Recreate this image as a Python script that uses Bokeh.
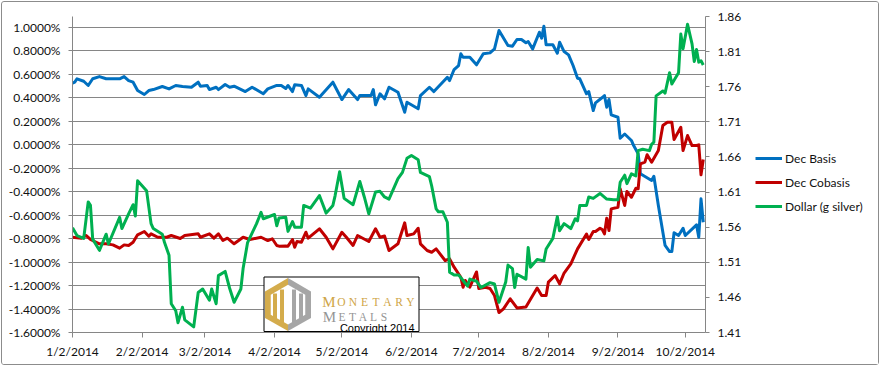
import pandas as pd
from bokeh.plotting import figure
from bokeh.layouts import row
from bokeh.models import (Range1d, LinearAxis, FixedTicker, CustomJSTickFormatter,
                          Legend, LegendItem)
from bokeh.core.properties import value
from bokeh.embed import file_html
from bokeh.resources import INLINE

# ---------------- data ----------------
basis_dates = [
    "2014-01-02", "2014-01-03", "2014-01-04", "2014-01-07", "2014-01-09", "2014-01-11", "2014-01-14",
    "2014-01-17", "2014-01-23", "2014-01-25", "2014-01-27", "2014-01-29", "2014-01-31",
    "2014-02-03", "2014-02-05", "2014-02-07", "2014-02-11", "2014-02-14", "2014-02-17", "2014-02-20",
    "2014-02-24", "2014-02-27", "2014-02-28",
    "2014-03-03", "2014-03-04", "2014-03-07", "2014-03-08", "2014-03-11", "2014-03-13", "2014-03-15",
    "2014-03-20", "2014-03-23", "2014-03-28", "2014-03-30",
    "2014-04-03", "2014-04-05", "2014-04-07", "2014-04-08", "2014-04-10", "2014-04-11", "2014-04-14",
    "2014-04-16", "2014-04-17", "2014-04-22", "2014-04-28",
    "2014-05-02", "2014-05-05", "2014-05-09", "2014-05-10", "2014-05-15", "2014-05-16", "2014-05-17",
    "2014-05-19", "2014-05-21", "2014-05-23", "2014-05-27", "2014-05-30", "2014-05-31",
    "2014-06-05", "2014-06-06", "2014-06-10", "2014-06-12", "2014-06-18", "2014-06-19", "2014-06-21",
    "2014-06-23", "2014-06-24", "2014-06-25", "2014-06-28",
    "2014-07-01", "2014-07-04", "2014-07-07", "2014-07-09", "2014-07-11", "2014-07-15", "2014-07-17",
    "2014-07-19", "2014-07-21", "2014-07-23", "2014-07-24", "2014-07-26", "2014-07-29", "2014-07-30",
    "2014-07-31",
    "2014-08-01", "2014-08-04", "2014-08-06", "2014-08-07", "2014-08-09", "2014-08-11", "2014-08-13",
    "2014-08-15", "2014-08-16", "2014-08-19", "2014-08-20", "2014-08-22", "2014-08-23", "2014-08-26",
    "2014-08-27", "2014-08-28", "2014-08-29", "2014-08-30",
    "2014-09-02", "2014-09-03", "2014-09-05", "2014-09-08", "2014-09-09", "2014-09-11", "2014-09-12",
    "2014-09-17", "2014-09-18", "2014-09-20", "2014-09-23", "2014-09-25", "2014-09-26", "2014-09-27",
    "2014-09-29",
    "2014-10-01", "2014-10-02", "2014-10-07", "2014-10-08", "2014-10-09", "2014-10-10",
]
basis_pct = [
    0.525, 0.534, 0.563, 0.542, 0.506, 0.563, 0.582, 0.563, 0.563, 0.582, 0.548, 0.534, 0.463,
    0.429, 0.463, 0.471, 0.497, 0.477, 0.506, 0.497, 0.491, 0.534, 0.500,
    0.506, 0.471, 0.491, 0.471, 0.514, 0.491, 0.500, 0.454, 0.491, 0.435, 0.477,
    0.506, 0.506, 0.480, 0.506, 0.454, 0.512, 0.506, 0.420, 0.477, 0.406, 0.534,
    0.386, 0.471, 0.386, 0.420, 0.420, 0.471, 0.341, 0.435, 0.392, 0.491, 0.448, 0.278, 0.363,
    0.307, 0.420, 0.491, 0.454, 0.576, 0.548, 0.642, 0.676, 0.776, 0.747, 0.747,
    0.682, 0.776, 0.784, 0.818, 0.974, 0.847, 0.841, 0.898, 0.898, 0.870, 0.881, 0.818, 0.960, 0.909,
    1.011,
    0.853, 0.853, 0.781, 0.875, 0.795, 0.767, 0.676, 0.568, 0.563, 0.435, 0.454, 0.292, 0.358, 0.403,
    0.420, 0.321, 0.386, 0.256,
    0.235, 0.056, 0.092, 0.037, -0.006, -0.077, -0.247, -0.304, -0.268, -0.517, -0.858, -0.910, -0.910,
    -0.750, -0.773,
    -0.711, -0.773, -0.682, -0.788, -0.460, -0.660,
]

cobasis_dates = [
    "2014-01-02", "2014-01-06", "2014-01-08", "2014-01-10", "2014-01-14", "2014-01-17", "2014-01-20",
    "2014-01-23", "2014-01-25", "2014-01-27", "2014-01-29", "2014-01-31",
    "2014-02-03", "2014-02-05", "2014-02-06", "2014-02-09", "2014-02-13", "2014-02-15", "2014-02-19",
    "2014-02-21", "2014-02-27", "2014-02-28",
    "2014-03-04", "2014-03-06", "2014-03-08", "2014-03-10", "2014-03-12", "2014-03-15", "2014-03-19",
    "2014-03-22", "2014-03-27", "2014-03-30",
    "2014-04-01", "2014-04-03", "2014-04-04", "2014-04-07", "2014-04-08", "2014-04-10", "2014-04-11",
    "2014-04-12", "2014-04-14", "2014-04-16", "2014-04-17", "2014-04-22", "2014-04-25", "2014-04-28",
    "2014-05-02", "2014-05-04", "2014-05-07", "2014-05-09", "2014-05-14", "2014-05-17", "2014-05-19",
    "2014-05-21", "2014-05-23", "2014-05-27", "2014-05-30", "2014-05-31",
    "2014-06-03", "2014-06-05", "2014-06-06", "2014-06-09", "2014-06-11", "2014-06-13", "2014-06-17",
    "2014-06-19", "2014-06-21", "2014-06-24", "2014-06-25", "2014-06-26", "2014-06-28",
    "2014-07-01", "2014-07-02", "2014-07-05", "2014-07-07", "2014-07-09", "2014-07-11", "2014-07-13",
    "2014-07-16", "2014-07-19", "2014-07-23", "2014-07-28", "2014-07-30",
    "2014-08-01", "2014-08-02", "2014-08-05", "2014-08-07", "2014-08-09", "2014-08-12", "2014-08-15",
    "2014-08-19", "2014-08-20", "2014-08-22", "2014-08-23", "2014-08-25", "2014-08-26", "2014-08-27",
    "2014-08-28", "2014-08-29", "2014-08-30",
    "2014-09-02", "2014-09-03", "2014-09-05", "2014-09-06", "2014-09-08", "2014-09-10", "2014-09-11",
    "2014-09-12", "2014-09-14", "2014-09-15", "2014-09-17", "2014-09-20", "2014-09-22", "2014-09-24",
    "2014-09-26", "2014-09-27", "2014-09-30",
    "2014-10-01", "2014-10-03", "2014-10-05", "2014-10-07", "2014-10-08", "2014-10-09", "2014-10-10",
]
cobasis_pct = [
    -0.788, -0.796, -0.773, -0.807, -0.844, -0.844, -0.853, -0.881, -0.853, -0.858, -0.830, -0.767,
    -0.739, -0.779, -0.759, -0.788, -0.788, -0.773, -0.799, -0.773, -0.759, -0.788,
    -0.759, -0.796, -0.759, -0.816, -0.796, -0.844, -0.788, -0.807, -0.788, -0.816,
    -0.801, -0.858, -0.864, -0.863, -0.864, -0.807, -0.873, -0.824, -0.830, -0.745, -0.796, -0.716,
    -0.788, -0.887,
    -0.745, -0.788, -0.858, -0.773, -0.824, -0.716, -0.788, -0.777, -0.901, -0.844, -0.665, -0.773,
    -0.759, -0.711, -0.844, -0.901, -0.916, -0.887, -0.986, -0.972, -1.043, -1.129, -1.214, -1.157,
    -1.214,
    -1.084, -1.225, -1.214, -1.225, -1.285, -1.430, -1.398, -1.313, -1.391, -1.383, -1.221, -1.285,
    -1.285, -1.171, -1.114, -1.185, -1.093, -1.014, -0.887, -0.760, -0.807, -0.739, -0.739, -0.711,
    -0.722, -0.759, -0.626, -0.731, -0.546,
    -0.532, -0.375, -0.517, -0.398, -0.447, -0.370, -0.375, -0.162, -0.148, -0.085, -0.148, -0.049,
    0.165, 0.193, 0.193, 0.045, 0.150,
    -0.049, 0.079, -0.006, -0.006, 0.000, -0.256, -0.125,
]

dollar_dates = [
    "2014-01-02", "2014-01-04", "2014-01-07", "2014-01-09", "2014-01-10", "2014-01-11", "2014-01-14",
    "2014-01-17", "2014-01-18", "2014-01-23", "2014-01-24", "2014-01-27", "2014-01-29", "2014-01-30",
    "2014-01-31",
    "2014-02-04", "2014-02-06", "2014-02-07", "2014-02-11", "2014-02-12", "2014-02-14", "2014-02-15",
    "2014-02-17", "2014-02-18", "2014-02-20", "2014-02-21", "2014-02-25", "2014-02-27",
    "2014-03-01", "2014-03-04", "2014-03-05", "2014-03-07", "2014-03-08", "2014-03-11", "2014-03-13",
    "2014-03-15", "2014-03-18", "2014-03-19", "2014-03-21", "2014-03-25", "2014-03-26", "2014-03-27",
    "2014-03-28",
    "2014-04-02", "2014-04-03", "2014-04-04", "2014-04-07", "2014-04-08", "2014-04-10", "2014-04-11",
    "2014-04-14", "2014-04-15", "2014-04-18", "2014-04-22", "2014-04-25", "2014-04-28", "2014-04-29",
    "2014-05-01", "2014-05-03", "2014-05-07", "2014-05-10", "2014-05-12", "2014-05-14", "2014-05-17",
    "2014-05-19", "2014-05-21", "2014-05-23", "2014-05-27", "2014-05-29", "2014-05-31",
    "2014-06-02", "2014-06-05", "2014-06-06", "2014-06-10", "2014-06-11", "2014-06-13", "2014-06-14",
    "2014-06-16", "2014-06-18", "2014-06-19", "2014-06-21", "2014-06-23", "2014-06-25", "2014-06-27",
    "2014-06-28",
    "2014-07-01", "2014-07-03", "2014-07-07", "2014-07-09", "2014-07-11", "2014-07-14", "2014-07-15",
    "2014-07-17", "2014-07-18", "2014-07-19", "2014-07-23", "2014-07-24", "2014-07-25", "2014-07-28",
    "2014-07-31",
    "2014-08-01", "2014-08-04", "2014-08-06", "2014-08-07", "2014-08-09", "2014-08-12", "2014-08-14",
    "2014-08-15", "2014-08-16", "2014-08-19", "2014-08-20", "2014-08-22", "2014-08-25", "2014-08-28",
    "2014-08-31",
    "2014-09-02", "2014-09-03", "2014-09-05", "2014-09-06", "2014-09-08", "2014-09-10", "2014-09-11",
    "2014-09-13", "2014-09-16", "2014-09-17", "2014-09-18", "2014-09-19", "2014-09-22", "2014-09-23",
    "2014-09-25", "2014-09-26", "2014-09-29", "2014-09-30",
    "2014-10-01", "2014-10-03", "2014-10-05", "2014-10-06", "2014-10-07", "2014-10-08", "2014-10-09",
    "2014-10-10",
]
dollar_g = [
    1.559, 1.548, 1.544, 1.596, 1.591, 1.543, 1.527, 1.550, 1.536, 1.574, 1.558, 1.579, 1.592, 1.576,
    1.626,
    1.612, 1.565, 1.558, 1.550, 1.538, 1.520, 1.451, 1.441, 1.424, 1.446, 1.428, 1.418, 1.467,
    1.472, 1.456, 1.472, 1.451, 1.491, 1.497, 1.473, 1.453, 1.472, 1.501, 1.538, 1.565, 1.573, 1.581,
    1.572,
    1.578, 1.562, 1.573, 1.574, 1.554, 1.568, 1.560, 1.560, 1.591, 1.587, 1.605, 1.580, 1.591, 1.605,
    1.639, 1.601, 1.592, 1.625, 1.603, 1.579, 1.610, 1.611, 1.603, 1.600, 1.629, 1.638, 1.658,
    1.662, 1.656, 1.638, 1.632, 1.619, 1.586, 1.582, 1.582, 1.567, 1.496, 1.492, 1.492, 1.484, 1.476,
    1.486,
    1.483, 1.474, 1.481, 1.479, 1.453, 1.482, 1.506, 1.501, 1.474, 1.493, 1.486, 1.531, 1.503, 1.514,
    1.512,
    1.529, 1.544, 1.575, 1.555, 1.565, 1.558, 1.572, 1.569, 1.591, 1.591, 1.603, 1.601, 1.608, 1.600,
    1.599,
    1.599, 1.624, 1.634, 1.622, 1.636, 1.633, 1.669, 1.671, 1.669, 1.678, 1.681, 1.747, 1.754, 1.751,
    1.780, 1.764, 1.780, 1.835,
    1.814, 1.849, 1.821, 1.796, 1.813, 1.795, 1.797, 1.791,
]

x_tick_dates = ["2014-01-02", "2014-02-02", "2014-03-02", "2014-04-02", "2014-05-02",
                "2014-06-02", "2014-07-02", "2014-08-02", "2014-09-02", "2014-10-02"]
left_ticks = [-1.6, -1.4, -1.2, -1.0, -0.8, -0.6, -0.4, -0.2, 0.0, 0.2, 0.4, 0.6, 0.8, 1.0]
right_ticks = [1.41, 1.46, 1.51, 1.56, 1.61, 1.66, 1.71, 1.76, 1.81, 1.86]
series_labels = ["Dec Basis", "Dec Cobasis", "Dollar (g silver)"]
series_colors = ["#0070C0", "#C00000", "#00B050"]


def to_ms(dates):
    return [pd.Timestamp(d).value // 10**6 for d in dates]


series = [(to_ms(basis_dates), basis_pct), (to_ms(cobasis_dates), cobasis_pct),
          (to_ms(dollar_dates), dollar_g)]

DAY = 86400000
X0 = to_ms(["2014-01-02"])[0]
X1 = X0 + 282 * DAY
YL0, YL1 = -1.6, 1.094

FONT = "Lato"
GRID = "#868686"

p = figure(frame_width=633, frame_height=316, output_backend="svg", toolbar_location=None,
           x_range=Range1d(X0, X1), y_range=Range1d(YL0, YL1),
           min_border_left=70, min_border_top=14, min_border_bottom=32, min_border_right=40)
p.outline_line_color = None
p.background_fill_color = "white"
p.border_fill_color = "white"
p.extra_y_ranges = {"dollar": Range1d(1.41, 1.86)}

# axes
xa = p.xaxis[0]
xa.ticker = FixedTicker(ticks=to_ms(x_tick_dates))
xa.formatter = CustomJSTickFormatter(code="""
const d = new Date(tick);
return (d.getUTCMonth() + 1) + "/" + d.getUTCDate() + "/" + d.getUTCFullYear();
""")
ya = p.yaxis[0]
ya.ticker = FixedTicker(ticks=left_ticks)
ya.formatter = CustomJSTickFormatter(code="return tick.toFixed(4) + '%';")
ra = LinearAxis(y_range_name="dollar", ticker=FixedTicker(ticks=right_ticks),
                formatter=CustomJSTickFormatter(code="return tick.toFixed(2);"))
p.add_layout(ra, "right")

for ax in (xa, ya, ra):
    ax.axis_line_color = GRID
    ax.major_tick_line_color = GRID
    ax.minor_tick_line_color = None
    ax.major_tick_in = 0
    ax.major_label_text_font = FONT
    ax.major_label_text_font_size = "12px"
    ax.major_label_text_color = "#111111"
xa.major_tick_out = 5
xa.major_label_standoff = 6
ya.major_tick_out = 4
ya.major_label_standoff = 8
ra.major_tick_out = 4
ra.major_label_standoff = 8

p.xgrid.grid_line_color = None
p.ygrid.ticker = FixedTicker(ticks=left_ticks)
p.ygrid.grid_line_color = GRID
p.ygrid.grid_line_width = 1

# series
for (xs, ys), col, rng in zip(series, series_colors, ["default", "default", "dollar"]):
    p.line(xs, ys, line_color=col, line_width=3, line_join="round", y_range_name=rng)

# ---------------- watermark (decoration placed in screen pixels of the frame) ----------------
FR_L, FR_T, FR_W, FR_H = 72, 16, 633, 316


def wx(px):
    return X0 + (px - FR_L) / FR_W * (X1 - X0)


def wy(py):
    return YL0 + (FR_T + FR_H - py) / FR_H * (YL1 - YL0)


p.quad(left=[wx(263.5)], right=[wx(418.5)], bottom=[wy(331)], top=[wy(276.5)],
       fill_color="white", line_color="black", line_width=1)

GOLD = "#D4AC4C"
GREY = "#A6A6A6"
cx, cy = 287.5, 304.0
outer = [(287.5, 277.5), (310.5, 291), (310.5, 317.5), (287.5, 330.5), (264.5, 317.5), (264.5, 291)]
gold_half = [outer[0], outer[3], outer[4], outer[5]]
grey_half = [outer[0], outer[1], outer[2], outer[3]]
inner = [(cx + (x - cx) * 0.75, cy + (y - cy) * 0.75) for x, y in outer]
bars_gold = [(272.5, 276.5, 293, 320), (279.5, 283.5, 289, 323)]
bars_grey = [(291.5, 295.5, 289, 323), (298.5, 302.5, 293, 320)]

p.patches([[wx(x) for x, _ in gold_half], [wx(x) for x, _ in grey_half]],
          [[wy(y) for _, y in gold_half], [wy(y) for _, y in grey_half]],
          fill_color=[GOLD, GREY], line_color=None)
p.patch([wx(x) for x, _ in inner], [wy(y) for _, y in inner], fill_color="white", line_color=None)
for bars, col in ((bars_gold, GOLD), (bars_grey, GREY)):
    p.quad(left=[wx(b[0]) for b in bars], right=[wx(b[1]) for b in bars],
           top=[wy(b[2]) for b in bars], bottom=[wy(b[3]) for b in bars],
           fill_color=col, line_color=None)


def spaced_word(word, first_x, pitch, base_y, color):
    xs = [wx(first_x)] + [wx(first_x + 12.5 + i * pitch) for i in range(len(word) - 1)]
    sizes = ["15px"] + ["11.5px"] * (len(word) - 1)
    for ch, xx, sz in zip(word, xs, sizes):
        p.text(x=[xx], y=[wy(base_y)], text=[ch], text_align="center", text_baseline="alphabetic",
               text_font=value("Liberation Serif"), text_font_size=sz, text_color=color)


spaced_word("MONETARY", 328.5, 11.5, 301.5, "#CFA546")
spaced_word("METALS", 329.0, 10.5, 316.5, "#959595")
p.text(x=[wx(414)], y=[wy(327)], text=["Copyright 2014"], text_align="right",
       text_baseline="alphabetic", text_font=value("Liberation Sans"), text_font_size="11px",
       text_color="black")

# ---------------- legend panel (a slim plot to the right of the chart) ----------------
# The same series are given to this panel, but its ranges keep them out of view:
# only the legend entries (swatch + label) show here.
lf = figure(width=133, height=362, output_backend="svg", toolbar_location=None,
            x_axis_type=None, y_axis_type=None, x_range=Range1d(0, 1), y_range=Range1d(0, 1),
            min_border_left=0, min_border_right=0, min_border_top=0, min_border_bottom=0)
lf.outline_line_color = None
lf.grid.visible = False
swatches = [lf.line(xs, ys, line_color=col, line_width=3) for (xs, ys), col in zip(series, series_colors)]
legend = Legend(items=[LegendItem(label=lab, renderers=[r]) for lab, r in zip(series_labels, swatches)],
                location=(5, 111), glyph_width=27, glyph_height=20, label_height=20,
                spacing=4, padding=5, margin=0, label_standoff=3,
                border_line_alpha=0, background_fill_alpha=0,
                label_text_font=FONT, label_text_font_size="12px", label_text_color="#111111")
lf.add_layout(legend)

layout = row(p, lf)
layout.styles = {"border": "1px solid #8c8c8c", "border-radius": "3px", "margin": "1px 0 0 1px"}

open("out.html", "w").write(file_html(layout, INLINE))
